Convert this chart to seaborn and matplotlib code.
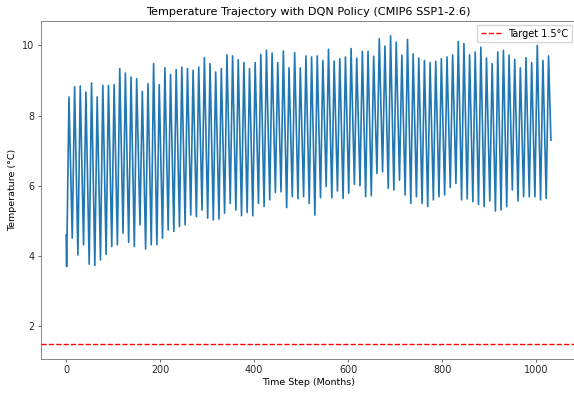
import numpy as np
import pandas as pd
import matplotlib
matplotlib.use("Agg")
import matplotlib.pyplot as plt
import seaborn as sns

# Yearly turning points (°C)
troughs = [3.70, 4.51, 4.03, 4.32, 3.77, 3.73, 3.89, 4.05, 4.27, 4.32, 4.65, 4.39, 4.27,
           4.89, 4.20, 4.32, 4.32, 4.51, 4.74, 4.70, 4.84, 4.89, 5.17, 5.12, 5.31, 5.08, 5.03,
           5.05, 5.22, 5.50, 5.31, 5.15, 5.24, 5.15, 5.50, 5.41, 5.60, 5.81, 5.83, 5.38, 5.69,
           5.63, 5.69, 5.50, 5.17, 5.66, 5.98, 5.66, 5.85, 5.64, 5.79, 6.04, 6.00, 5.69, 5.72,
           6.35, 6.40, 5.93, 5.88, 6.16, 5.74, 5.50, 5.69, 5.50, 5.41, 5.60, 5.69, 5.74, 5.95, 6.07,
           5.60, 5.63, 5.55, 5.47, 5.41, 5.57, 5.28, 5.31, 5.41, 5.88, 5.57, 5.69, 5.69, 5.69, 5.60, 5.64]
peaks = [8.53, 8.82, 8.84, 8.67, 8.93, 8.53, 8.86, 8.86, 8.88, 9.34, 9.21, 9.10, 9.05,
         8.69, 8.91, 9.48, 8.88, 9.36, 9.17, 9.31, 9.38, 9.34, 9.29, 9.38, 9.65, 9.48, 9.24,
         9.34, 9.73, 9.70, 9.59, 9.51, 9.34, 9.51, 9.74, 9.86, 9.78, 9.51, 9.84, 9.36, 9.79,
         9.36, 9.70, 9.67, 9.70, 9.57, 9.89, 9.55, 9.62, 9.67, 9.91, 9.64, 9.83, 9.83, 9.69,
         10.19, 9.98, 10.27, 10.09, 9.72, 10.17, 9.76, 9.64, 9.57, 9.51, 9.55, 9.62, 9.67, 9.73, 10.11,
         10.05, 9.73, 9.81, 9.95, 9.64, 9.48, 9.81, 9.86, 9.72, 9.60, 9.36, 9.65, 9.51, 10.00, 9.57, 9.70]
start_temp = 4.60
end_temp = 7.30
last_month = 1031
target = 1.5

months = [0]
temps = [start_temp]
for k, (lo, hi) in enumerate(zip(troughs, peaks)):
    months += [12 * k + 1, 12 * k + 6]
    temps += [lo, hi]
months.append(last_month)
temps.append(end_temp)
df = pd.DataFrame({"month": months, "temp": temps})

plt.rcParams["font.family"] = ["DejaVu Sans"]
fig, ax = plt.subplots(figsize=(5.74, 3.93), dpi=100)
fig.subplots_adjust(left=0.071, right=1.004, top=0.947, bottom=0.086)

sns.lineplot(data=df, x="month", y="temp", color="#1f77b4", linewidth=1.2, ax=ax, legend=False)
ax.axhline(target, color="red", linestyle="--", linewidth=1.0, label="Target 1.5°C")

ax.set_xlim(-54, 1085)
ax.set_ylim(1.06, 10.70)
ax.set_xticks([0, 200, 400, 600, 800, 1000])
ax.set_yticks([2, 4, 6, 8, 10])
ax.set_title("Temperature Trajectory with DQN Policy (CMIP6 SSP1-2.6)", fontsize=8.1, pad=4)
ax.set_xlabel("Time Step (Months)", fontsize=6.8, labelpad=2)
ax.set_ylabel("Temperature (°C)", fontsize=6.8, labelpad=4)
ax.tick_params(labelsize=6.9, length=2.5, width=0.6, colors="0.3", labelcolor="0.15", pad=2)
for s in ax.spines.values():
    s.set_linewidth(0.6)
    s.set_color("0.45")
ax.legend(loc="upper right", fontsize=7.0, frameon=True, fancybox=True, borderaxespad=0.4)

fig.savefig("out.png", dpi=100)
